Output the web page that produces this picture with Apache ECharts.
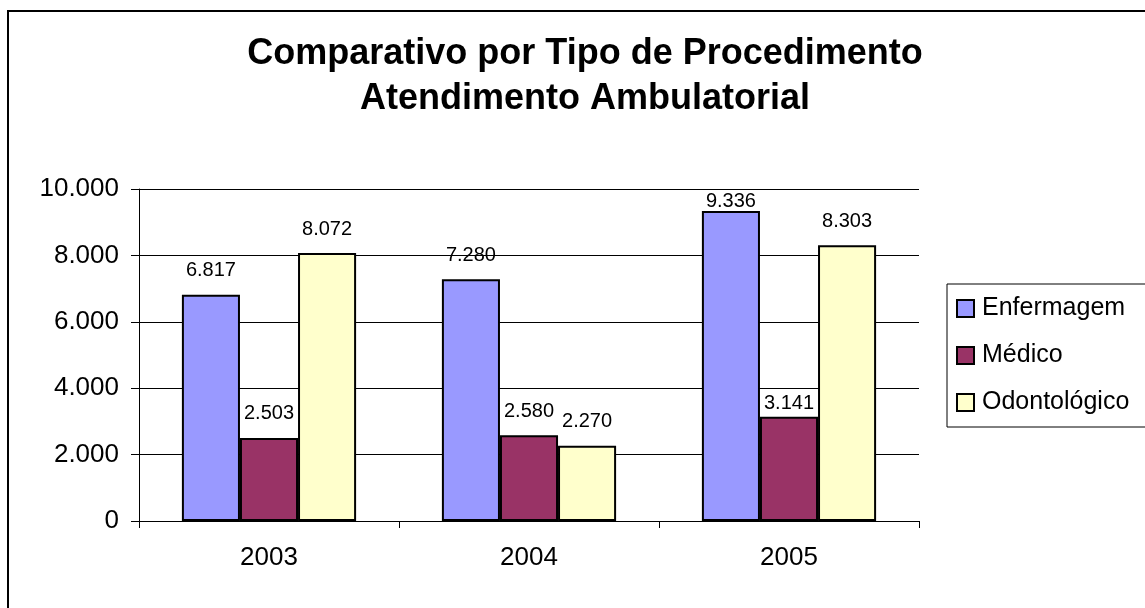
<!DOCTYPE html>
<html>
<head>
<meta charset="utf-8">
<script src="https://cdn.jsdelivr.net/npm/echarts@6/dist/echarts.min.js"></script>
<style>
  html, body { margin: 0; padding: 0; background: #fff; }
  #chart { width: 1145px; height: 608px; }
</style>
</head>
<body>
<div id="chart"></div>
<script>
// dados do gráfico
var anos = ['2003', '2004', '2005'];
var enfermagem = [6817, 7280, 9336];
var medico = [2503, 2580, 3141];
var odontologico = [8072, 2270, 8303];
var yTicks = [0, 2000, 4000, 6000, 8000, 10000];

var FONT = "'Liberation Sans', Arial, sans-serif";

// separador de milhar com ponto
function fmt(v) {
    return String(v).replace(/\B(?=(\d{3})+(?!\d))/g, '.');
}

var chart = echarts.init(document.getElementById('chart'));

// rótulos que no original ficam mais colados na barra (só estilo)
var rotuloPerto = { 'Enfermagem': { 2: 0 }, 'Médico': { 2: 3 } };

function serie(nome, dados, cor) {
    var ajuste = rotuloPerto[nome] || {};
    return {
        name: nome,
        type: 'bar',
        data: dados.map(function (v, i) {
            if (ajuste[i] !== undefined) {
                return { value: v, label: { distance: ajuste[i] } };
            }
            return v;
        }),
        barGap: 0,
        barCategoryGap: '33%',
        itemStyle: {
            color: cor,
            borderColor: '#000',
            borderWidth: 2
        },
        label: {
            show: true,
            position: 'top',
            distance: 14,
            color: '#000',
            fontFamily: FONT,
            fontSize: 20,
            formatter: function (p) { return fmt(p.value); }
        }
    };
}

var option = {
    animation: false,
    backgroundColor: '#fff',
    textStyle: { fontFamily: FONT },
    graphic: [
        {   // moldura externa
            type: 'rect',
            shape: { x: 8, y: 11, width: 1300, height: 800 },
            style: { fill: 'none', stroke: '#000', lineWidth: 2 },
            silent: true
        },
        {
            type: 'text',
            x: 585,
            y: 32,
            style: {
                text: 'Comparativo por Tipo de Procedimento\nAtendimento Ambulatorial',
                fontFamily: FONT,
                fontWeight: 'bold',
                fontSize: 36,
                lineHeight: 45,
                textAlign: 'center',
                textVerticalAlign: 'top',
                fill: '#000'
            }
        }
    ],
    legend: {
        orient: 'vertical',
        left: 947,
        top: 284,
        padding: [12, 30, 12, 9],
        itemGap: 22,
        itemWidth: 17,
        itemHeight: 17,
        icon: 'rect',
        backgroundColor: '#fff',
        borderColor: '#000',
        borderWidth: 1,
        textStyle: {
            fontFamily: FONT,
            fontSize: 25,
            color: '#000',
            padding: [0, 0, 0, 3]
        },
        data: ['Enfermagem', 'Médico', 'Odontológico']
    },
    grid: {
        left: 139,
        right: 226,
        top: 189,
        bottom: 87
    },
    xAxis: {
        type: 'category',
        data: anos,
        axisLine: { lineStyle: { color: '#000', width: 1 } },
        axisTick: { show: true, length: 7, lineStyle: { color: '#000' } },
        axisLabel: {
            color: '#000',
            fontFamily: FONT,
            fontSize: 26,
            margin: 24
        }
    },
    yAxis: {
        type: 'value',
        min: yTicks[0],
        max: yTicks[yTicks.length - 1],
        interval: 2000,
        axisLine: { show: true, lineStyle: { color: '#000', width: 1 } },
        axisTick: { show: true, length: 8, lineStyle: { color: '#000' } },
        axisLabel: {
            color: '#000',
            fontFamily: FONT,
            fontSize: 26,
            margin: 20,
            formatter: function (v) { return fmt(v); }
        },
        splitLine: { show: true, lineStyle: { color: '#000', width: 1 } }
    },
    series: [
        serie('Enfermagem', enfermagem, '#9999FF'),
        serie('Médico', medico, '#993366'),
        serie('Odontológico', odontologico, '#FFFFCC')
    ]
};

chart.setOption(option);
</script>
</body>
</html>
